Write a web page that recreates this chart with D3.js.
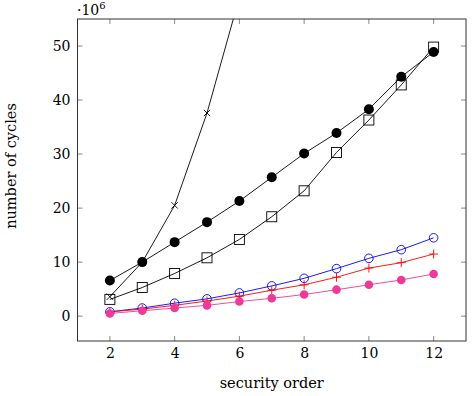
<!DOCTYPE html>
<html><head><meta charset="utf-8">
<script src="https://cdn.jsdelivr.net/npm/d3@7"></script>
<style>body{margin:0;background:#fff}svg{display:block}text{font-family:"DejaVu Serif","Liberation Serif",serif;fill:#000}</style>
</head><body><div id="chart"></div>
<script>
const orders = [2,3,4,5,6,7,8,9,10,11,12];
const xTicks = [2,4,6,8,10,12];
const yTicks = [0,10,20,30,40,50];
const crossSeries = [3.6,10.0,20.5,37.6,59,85,115,150,190,235,285];
const filledBlack = [6.6,10.0,13.7,17.4,21.3,25.7,30.1,33.9,38.3,44.3,48.9];
const squares = [3.1,5.3,7.9,10.8,14.2,18.4,23.2,30.3,36.3,42.8,49.8];
const blueCircles = [0.8,1.5,2.4,3.2,4.3,5.6,7.0,8.8,10.7,12.3,14.5];
const redPlus = [0.8,1.3,2.0,2.8,3.7,4.8,5.8,7.2,8.9,9.9,11.5];
const pinkDots = [0.5,1.0,1.5,2.0,2.7,3.3,4.0,4.9,5.8,6.7,7.8];

const W=472,H=396;
const m={l:77.5,r:6,t:19,b:55};
const svg=d3.select("#chart").append("svg").attr("width",W).attr("height",H);
const x=d3.scaleLinear().domain([1,13]).range([m.l,W-m.r]);
const y=d3.scaleLinear().domain([-4.6,55]).range([H-m.b,m.t]);

const defs=svg.append("defs");
defs.append("clipPath").attr("id","clip").append("rect")
  .attr("x",m.l).attr("y",m.t).attr("width",W-m.r-m.l).attr("height",H-m.b-m.t);

// ticks
const tickCol="#888";
const tg=svg.append("g");
xTicks.forEach(v=>{
  tg.append("line").attr("x1",x(v)).attr("x2",x(v)).attr("y1",H-m.b).attr("y2",H-m.b-5).attr("stroke",tickCol);
  tg.append("line").attr("x1",x(v)).attr("x2",x(v)).attr("y1",m.t).attr("y2",m.t+5).attr("stroke",tickCol);
});
yTicks.forEach(v=>{
  tg.append("line").attr("x1",m.l).attr("x2",m.l+5).attr("y1",y(v)).attr("y2",y(v)).attr("stroke",tickCol);
  tg.append("line").attr("x1",W-m.r).attr("x2",W-m.r-5).attr("y1",y(v)).attr("y2",y(v)).attr("stroke",tickCol);
});
const xAxis=svg.append("g").attr("transform",`translate(0,${H-m.b})`)
  .call(d3.axisBottom(x).tickValues(xTicks).tickSize(0).tickPadding(7));
const yAxis=svg.append("g").attr("transform",`translate(${m.l},0)`)
  .call(d3.axisLeft(y).tickValues(yTicks).tickSize(0).tickPadding(7));
[xAxis,yAxis].forEach(a=>{a.select(".domain").remove();a.selectAll("text").attr("font-size",14).attr("font-family","DejaVu Serif");});

const plot=svg.append("g").attr("clip-path","url(#clip)");
const line=d3.line().x((d,i)=>x(orders[i])).y(d=>y(d));

function series(data,color,marker){
  plot.append("path").datum(data).attr("d",line).attr("fill","none").attr("stroke",color).attr("stroke-width",0.9);
  const g=plot.append("g");
  data.forEach((d,i)=>{
    const cx=x(orders[i]),cy=y(d);
    if(marker==="x"){
      const s=3.2;
      g.append("path").attr("d",`M${cx-s},${cy-s}L${cx+s},${cy+s}M${cx-s},${cy+s}L${cx+s},${cy-s}`).attr("stroke",color).attr("stroke-width",0.9);
    } else if(marker==="dot"){
      g.append("circle").attr("cx",cx).attr("cy",cy).attr("r",5).attr("fill",color);
    } else if(marker==="sq"){
      g.append("rect").attr("x",cx-5).attr("y",cy-5).attr("width",10).attr("height",10).attr("fill","none").attr("stroke",color).attr("stroke-width",0.9);
    } else if(marker==="o"){
      g.append("circle").attr("cx",cx).attr("cy",cy).attr("r",4.3).attr("fill","none").attr("stroke",color).attr("stroke-width",0.9);
    } else if(marker==="+"){
      const s=4.5;
      g.append("path").attr("d",`M${cx-s},${cy}L${cx+s},${cy}M${cx},${cy-s}L${cx},${cy+s}`).attr("stroke",color).attr("stroke-width",0.9);
    } else if(marker==="pdot"){
      g.append("circle").attr("cx",cx).attr("cy",cy).attr("r",4.3).attr("fill",color);
    }
  });
}
series(crossSeries,"#000","x");
series(squares,"#000","sq");
series(filledBlack,"#000","dot");
series(blueCircles,"#0000ff","o");
series(redPlus,"#ff0000","+");
series(pinkDots,"#ec3a96","pdot");

// frame
svg.append("rect").attr("x",m.l).attr("y",m.t).attr("width",W-m.r-m.l).attr("height",H-m.b-m.t)
  .attr("fill","none").attr("stroke","#333").attr("stroke-width",1);

// labels
svg.append("text").attr("x",(m.l+W-m.r)/2).attr("y",388).attr("text-anchor","middle").attr("font-size",14.5).text("security order");
svg.append("text").attr("transform",`translate(16,166) rotate(-90)`).attr("text-anchor","middle").attr("font-size",14.5).text("number of cycles");
const mult=svg.append("text").attr("x",77).attr("y",14.5).attr("font-size",14);
mult.append("tspan").text("·10");
mult.append("tspan").attr("dy",-5.5).attr("font-size",10).text("6");
</script></body></html>
